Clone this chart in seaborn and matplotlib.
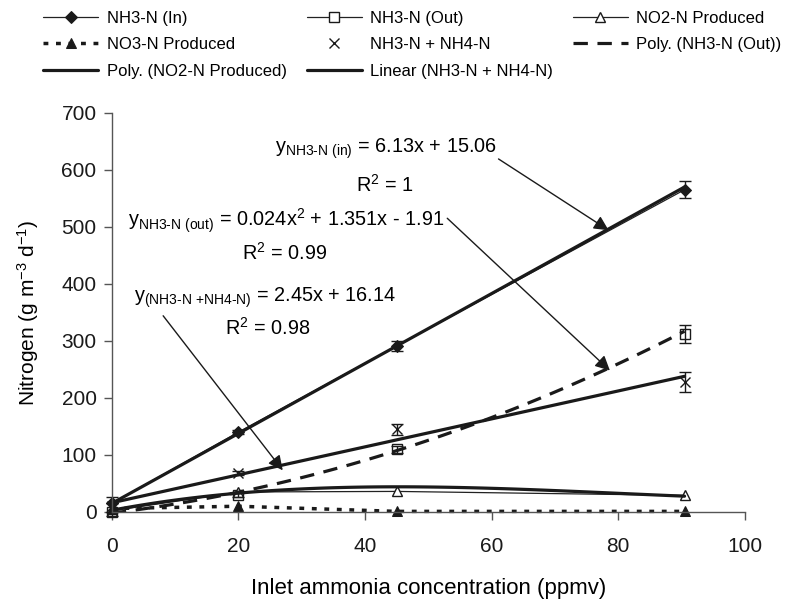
import numpy as np
import matplotlib
matplotlib.use('Agg')
import matplotlib.pyplot as plt
import seaborn as sns
from matplotlib.lines import Line2D

# data
conc = [0, 20, 45, 90.5]
nh3_in = [15, 140, 291, 565]
nh3_in_err = [0, 4, 8, 15]
nh3_out = [0, 30, 110, 312]
nh3_out_err = [0, 3, 6, 15]
no2_prod = [2, 35, 36, 29]
no3_prod = [6, 10, 1, 1]
nh3_nh4 = [10, 68, 145, 228]
nh3_nh4_err = [17, 3, 10, 18]

# trendline coefficients (from the equations; NO2 curve)
fit_in = [6.13, 15.06]
fit_out = [0.024, 1.351, -1.91]
fit_sum = [2.45, 16.14]
fit_no2 = [0.000133, -0.0321, 2.088, 3.0]

sns.set_theme(style='ticks')
plt.rcParams['font.family'] = ['Liberation Sans', 'DejaVu Sans']
plt.rcParams['mathtext.fontset'] = 'custom'
plt.rcParams['mathtext.rm'] = 'Liberation Sans'
plt.rcParams['mathtext.it'] = 'Liberation Sans:italic'
plt.rcParams['mathtext.bf'] = 'Liberation Sans:bold'
plt.rcParams['text.color'] = 'black'
plt.rcParams['axes.labelcolor'] = 'black'

fig = plt.figure(figsize=(7.88, 6.03), dpi=100)
ax = fig.add_axes([0.142, 0.151, 0.803, 0.662])

thin = dict(color='#222222', lw=0.9, clip_on=False)

sns.lineplot(x=conc, y=nh3_in, ax=ax, marker='D', markersize=6, markerfacecolor='k',
             markeredgecolor='k', label='NH3-N (In)', **thin)
sns.lineplot(x=conc, y=nh3_out, ax=ax, marker='s', markersize=7.5, markerfacecolor='white',
             markeredgecolor='k', markeredgewidth=1, color='k', linestyle='',
             clip_on=False)
sns.lineplot(x=conc, y=no2_prod, ax=ax, marker='^', markersize=7.5, markerfacecolor='white',
             markeredgecolor='k', markeredgewidth=1, label='NO2-N Produced', **thin)
sns.lineplot(x=conc, y=no3_prod, ax=ax, marker='^', markerfacecolor='k',
             markeredgecolor='k', color='k', lw=2.5, linestyle=(0, (1.4, 2.2)),
             markersize=7, clip_on=False, label='NO3-N Produced')
sns.lineplot(x=conc, y=nh3_nh4, ax=ax, marker='x', linestyle='', markersize=7,
             markeredgecolor='k', markeredgewidth=1, color='k', clip_on=False,
             label='NH3-N + NH4-N')

for vals, errs in [(nh3_in, nh3_in_err), (nh3_out, nh3_out_err), (nh3_nh4, nh3_nh4_err)]:
    ax.errorbar(conc, vals, yerr=errs, fmt='none', ecolor='k',
                elinewidth=1, capsize=4, capthick=1, clip_on=False)

# trendlines
xs = np.linspace(conc[0], conc[-1], 120)
sns.lineplot(x=xs, y=np.polyval(fit_in, xs), ax=ax, color='k', lw=2.3)
sns.lineplot(x=xs, y=np.polyval(fit_out, xs), ax=ax, color='k', lw=2.3,
             linestyle=(0, (4.5, 3)), label='Poly. (NH3-N (Out))')
sns.lineplot(x=xs, y=np.polyval(fit_no2, xs), ax=ax, color='k', lw=2.3,
             label='Poly. (NO2-N Produced)')
sns.lineplot(x=xs, y=np.polyval(fit_sum, xs), ax=ax, color='k', lw=2.3,
             label='Linear (NH3-N + NH4-N)')

# equations and arrows
eq_kw = dict(fontsize=14.3, ha='center', va='center')
ax.text(43.3, 637, r'$\mathrm{y}_{\text{NH3-N (in)}}$ = 6.13x + 15.06', **eq_kw)
ax.text(43.1, 574, r'R$^{2}$ = 1', **eq_kw)
ax.text(27.6, 510, r'$\mathrm{y}_{\text{NH3-N (out)}}$ = 0.024x$^{2}$ + 1.351x - 1.91', **eq_kw)
ax.text(27.3, 454, r'R$^{2}$ = 0.99', **eq_kw)
ax.text(24.2, 375, r'$\mathrm{y}_{\text{(NH3-N +NH4-N)}}$ = 2.45x + 16.14', **eq_kw)
ax.text(24.6, 323, r'R$^{2}$ = 0.98', **eq_kw)

arrow = dict(arrowstyle='-|>', color='k', lw=1, mutation_scale=22,
             shrinkA=0, shrinkB=0)
ax.annotate('', xy=(78.5, 494), xytext=(61.1, 619), arrowprops=arrow)
ax.annotate('', xy=(78.7, 248), xytext=(53.0, 515), arrowprops=arrow)
ax.annotate('', xy=(27.0, 73), xytext=(8.1, 344), arrowprops=arrow)

ax.set_xlim(0, 100)
ax.set_ylim(0, 700)
ax.set_xticks(range(0, 101, 20))
ax.set_yticks(range(0, 701, 100))
ax.tick_params(labelsize=15, length=6, width=1, color='#555555', labelcolor='k')
ax.tick_params(axis='x', pad=12)
ax.tick_params(axis='y', pad=5)
for side in ['top', 'right']:
    ax.spines[side].set_visible(False)
for side in ['left', 'bottom']:
    ax.spines[side].set_color('#555555')
    ax.spines[side].set_linewidth(1)
ax.set_xlabel('Inlet ammonia concentration (ppmv)', fontsize=16, labelpad=16)
ax.set_ylabel(r'Nitrogen (g m$^{-3}$ d$^{-1}$)', fontsize=15, labelpad=15)

handles, labels = ax.get_legend_handles_labels()
lookup = dict(zip(labels, handles))
lookup['NH3-N (Out)'] = Line2D([], [], color='#222222', lw=0.9, marker='s',
                               markersize=7.5, markerfacecolor='white',
                               markeredgecolor='k', markeredgewidth=1)
order = ['NH3-N (In)', 'NO3-N Produced', 'Poly. (NO2-N Produced)',
         'NH3-N (Out)', 'NH3-N + NH4-N', 'Linear (NH3-N + NH4-N)',
         'NO2-N Produced', 'Poly. (NH3-N (Out))']
if ax.get_legend() is not None:
    ax.get_legend().remove()
fig.legend([lookup[k] for k in order], order, ncol=3, loc='upper left',
           bbox_to_anchor=(0.055, 0.982), frameon=False, fontsize=12,
           handlelength=3.3, handletextpad=0.5, columnspacing=1.2,
           labelspacing=0.68, borderpad=0, borderaxespad=0)

fig.savefig('out.png', dpi=100)
